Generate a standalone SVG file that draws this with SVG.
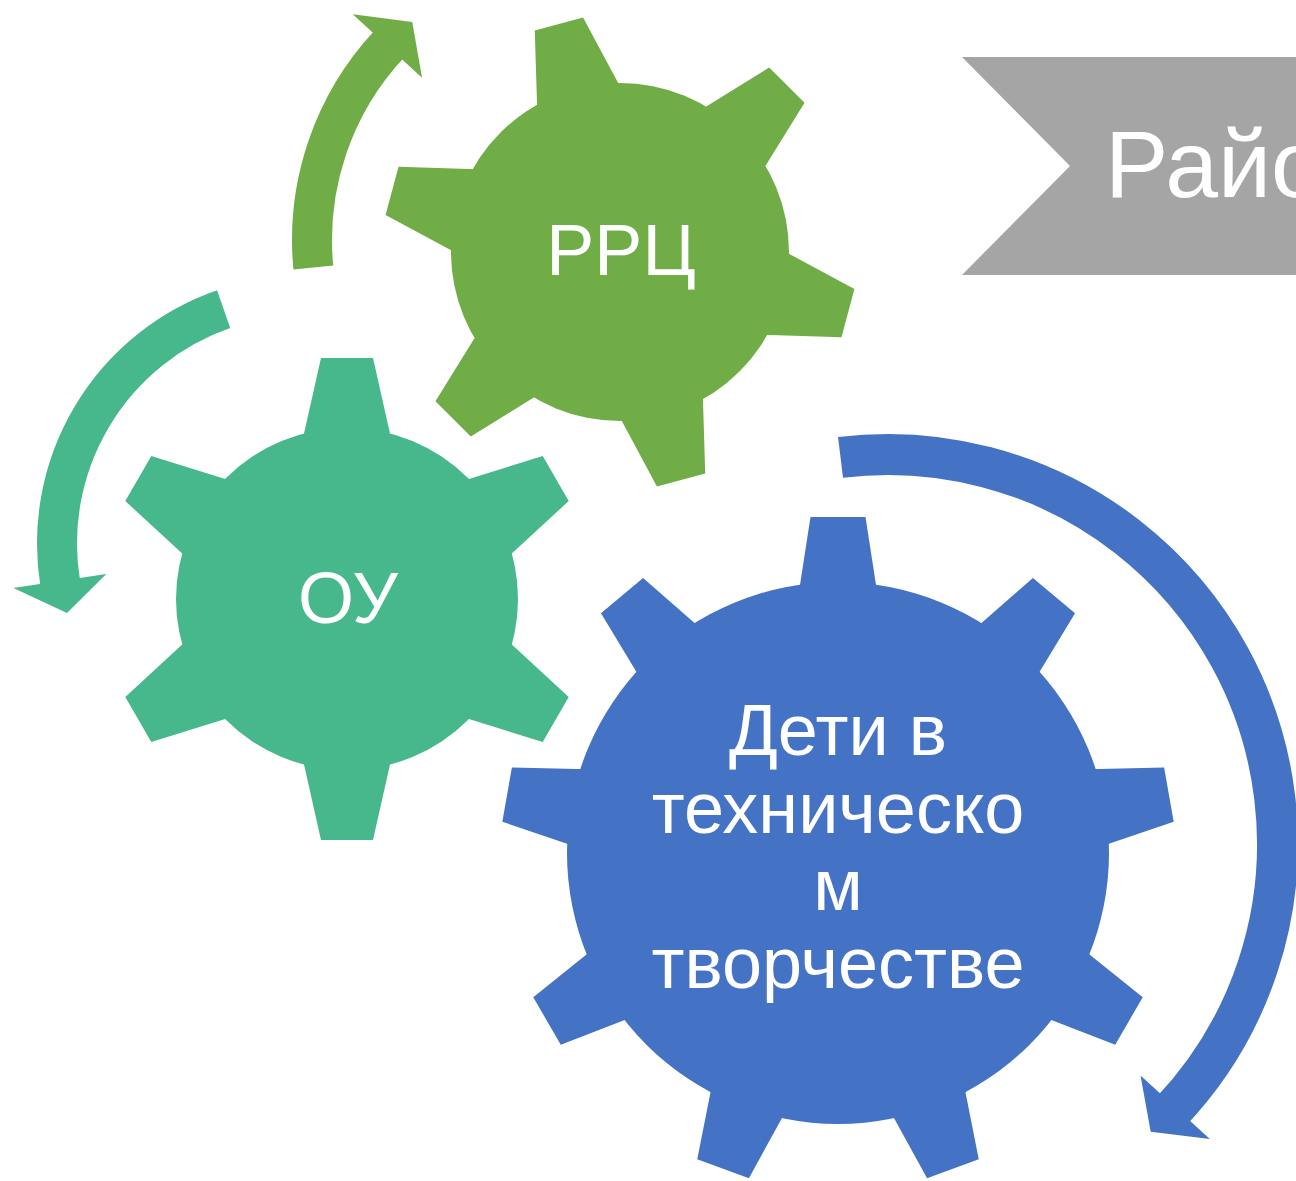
<svg xmlns="http://www.w3.org/2000/svg" width="1296" height="1181" viewBox="0 0 1296 1181">
<defs>
<style>
.lbl{font-family:"Liberation Sans",Arial,sans-serif;fill:#ffffff;text-anchor:middle;font-size:72px}
.ban{font-family:"Liberation Sans",Arial,sans-serif;fill:#ffffff;font-size:95px}
</style>
<polygon id="toothG" points="145,-46.4 236,-25 236,25 145,46.4"/>
<polygon id="toothT" points="145,-47.6 241,-26 241,26 145,47.6"/>
<polygon id="toothB" points="250,-40.8 336,-27.5 336,27.5 250,40.8"/>
</defs>
<rect width="1296" height="1181" fill="#ffffff"/>

<g id="banner">
<polygon points="962,57 1300,57 1300,275 962,275 1070,166" fill="#A5A5A5"/>
<text class="ban" x="1105" y="197">Райо</text>
</g>

<g id="connectors" fill="none">
<g id="arrow-green">
<circle cx="599" cy="240" r="287" stroke="#70AD47" stroke-width="40" stroke-dasharray="243 2000" transform="rotate(174.5 599 240)"/>
<polygon fill="#70AD47" points="933,240 883.9,274.5 839,240" transform="rotate(222.5 599 240)"/>
</g>
<g id="arrow-teal">
<circle cx="305" cy="543.5" r="248" stroke="#47B78C" stroke-width="40" stroke-dasharray="347.6 2000" transform="rotate(170.5 305 543.5)"/>
<polygon fill="#47B78C" points="600,543.5 550.8,510.7 506,543.5" transform="rotate(171.3 305 543.5)"/>
</g>
<g id="arrow-blue">
<circle cx="888" cy="844" r="389.5" stroke="#4472C4" stroke-width="41" stroke-dasharray="955 3000" transform="rotate(-97 888 844)"/>
<polygon fill="#4472C4" points="1324.5,844 1276,878.6 1230.5,844" transform="rotate(42.5 888 844)"/>
</g>
</g>

<g id="gear-rrc" fill="#70AD47">
<circle cx="620" cy="252" r="169"/>
<use href="#toothG" transform="translate(620 252) rotate(-105)"/>
<use href="#toothG" transform="translate(620 252) rotate(-45)"/>
<use href="#toothG" transform="translate(620 252) rotate(15)"/>
<use href="#toothG" transform="translate(620 252) rotate(75)"/>
<use href="#toothG" transform="translate(620 252) rotate(135)"/>
<use href="#toothG" transform="translate(620 252) rotate(195)"/>
<text class="lbl" x="621" y="275">РРЦ</text>
</g>

<g id="gear-ou" fill="#47B78C">
<circle cx="347" cy="599" r="171"/>
<use href="#toothT" transform="translate(347 599) rotate(-90)"/>
<use href="#toothT" transform="translate(347 599) rotate(-30)"/>
<use href="#toothT" transform="translate(347 599) rotate(30)"/>
<use href="#toothT" transform="translate(347 599) rotate(90)"/>
<use href="#toothT" transform="translate(347 599) rotate(150)"/>
<use href="#toothT" transform="translate(347 599) rotate(210)"/>
<text class="lbl" x="348" y="623">ОУ</text>
</g>

<g id="gear-children" fill="#4472C4">
<circle cx="838" cy="853" r="271"/>
<use href="#toothB" transform="translate(838 853) rotate(-90)"/>
<use href="#toothB" transform="translate(838 853) rotate(-50)"/>
<use href="#toothB" transform="translate(838 853) rotate(-10)"/>
<use href="#toothB" transform="translate(838 853) rotate(30)"/>
<use href="#toothB" transform="translate(838 853) rotate(70)"/>
<use href="#toothB" transform="translate(838 853) rotate(110)"/>
<use href="#toothB" transform="translate(838 853) rotate(150)"/>
<use href="#toothB" transform="translate(838 853) rotate(190)"/>
<use href="#toothB" transform="translate(838 853) rotate(230)"/>
<text class="lbl" x="838" y="755">Дети в</text>
<text class="lbl" x="838" y="833">техническо</text>
<text class="lbl" x="838" y="910">м</text>
<text class="lbl" x="838" y="988">творчестве</text>
</g>
</svg>
